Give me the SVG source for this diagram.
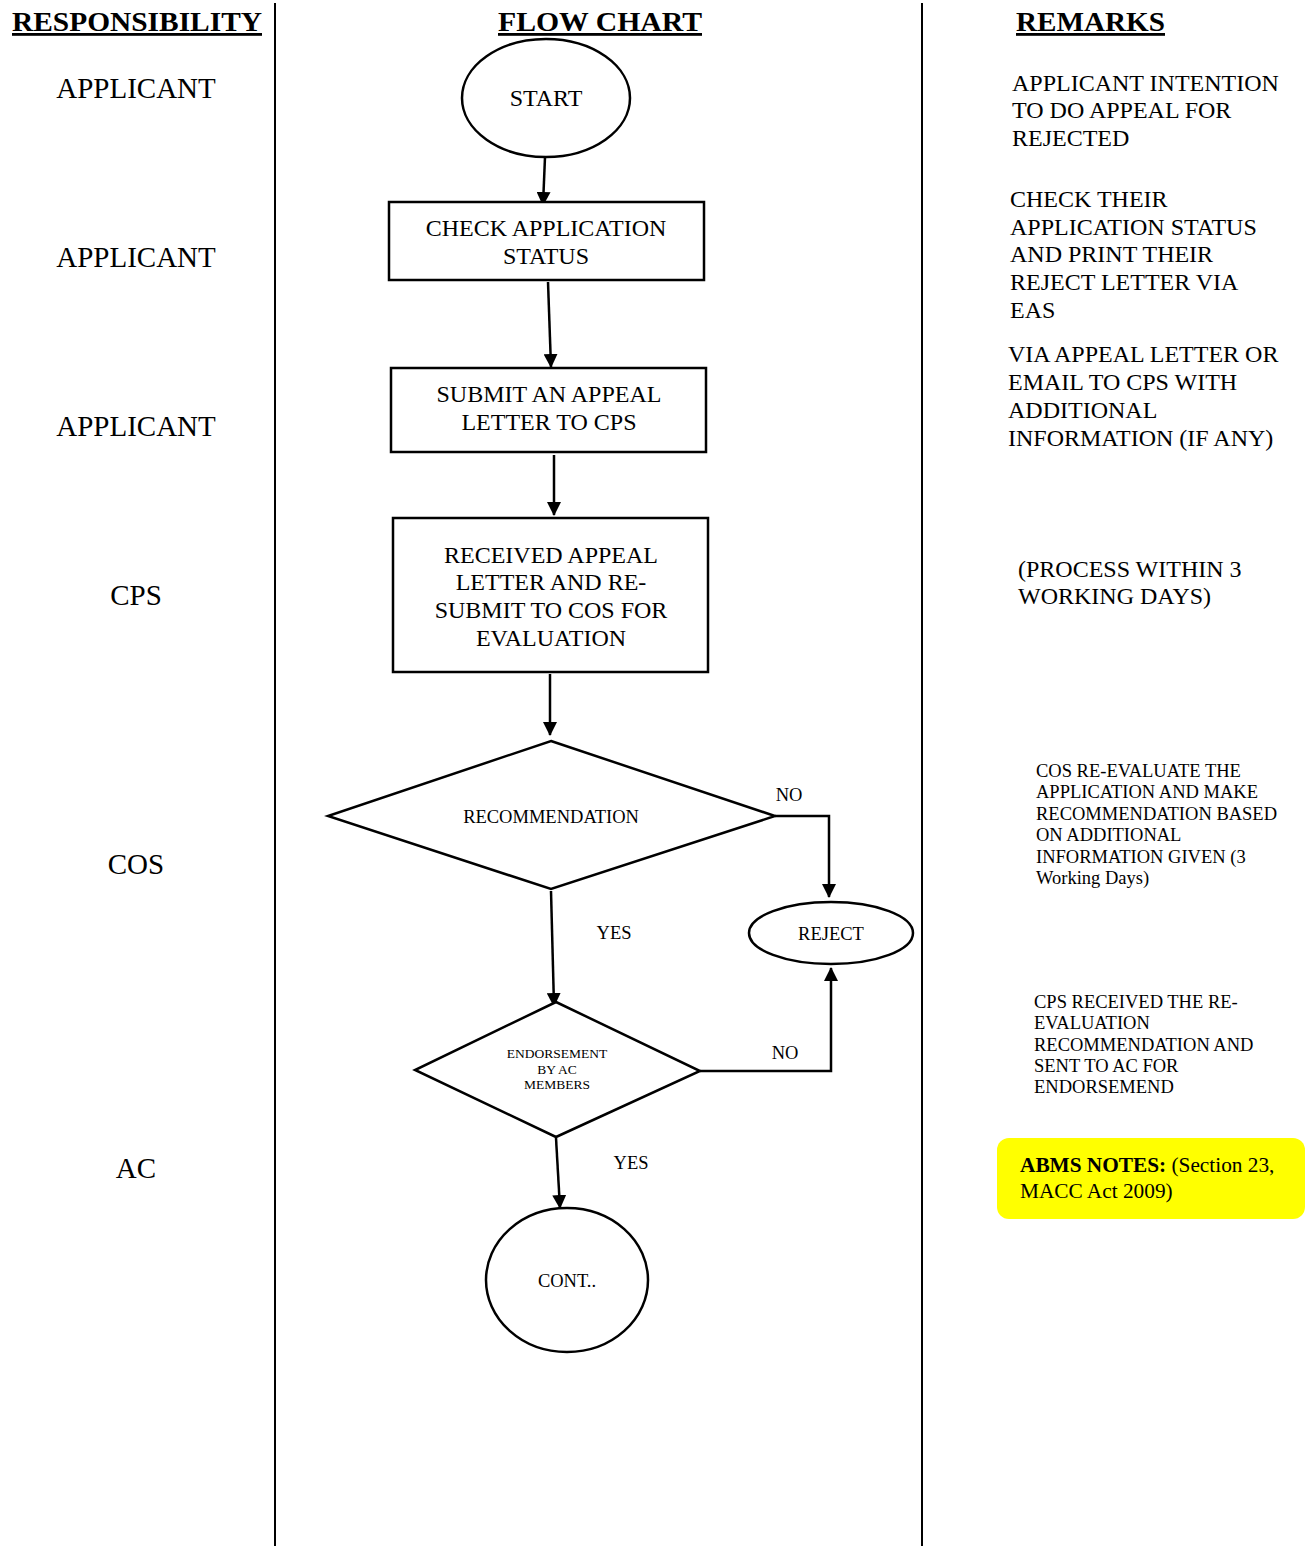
<svg xmlns="http://www.w3.org/2000/svg" width="1306" height="1546" viewBox="0 0 1306 1546">
<defs>
<marker id="arr" markerWidth="14" markerHeight="14" refX="13" refY="7" orient="auto" markerUnits="userSpaceOnUse">
<path d="M0,0 L14,7 L0,14 Z" fill="#000"/>
</marker>
<style>
text{font-family:"Liberation Serif","Times New Roman",serif;fill:#000}
.hdr{font-size:28px;font-weight:bold;text-decoration:underline}
.resp{font-size:29px;text-anchor:middle}
.node{font-size:24px;text-anchor:middle}
.sm{font-size:18.5px;text-anchor:middle}
.rem{font-size:24px}
.rem2{font-size:18.5px}
.shape{fill:#fff;stroke:#000;stroke-width:2.5}
.conn{fill:none;stroke:#000;stroke-width:2.5}
</style>
</defs>
<rect width="1306" height="1546" fill="#fff"/>
<g id="columns">
<line x1="275" y1="3" x2="275" y2="1546" stroke="#000" stroke-width="2"/>
<line x1="922" y1="3" x2="922" y2="1546" stroke="#000" stroke-width="2"/>
<text class="hdr" x="12" y="31" textLength="250" lengthAdjust="spacingAndGlyphs">RESPONSIBILITY</text>
<text class="hdr" x="498" y="31" textLength="204" lengthAdjust="spacingAndGlyphs">FLOW CHART</text>
<text class="hdr" x="1016" y="31" textLength="149" lengthAdjust="spacingAndGlyphs">REMARKS</text>
</g>
<g id="responsibility">
<text class="resp" x="136" y="98">APPLICANT</text>
<text class="resp" x="136" y="267">APPLICANT</text>
<text class="resp" x="136" y="436">APPLICANT</text>
<text class="resp" x="136" y="605">CPS</text>
<text class="resp" x="136" y="874">COS</text>
<text class="resp" x="136" y="1178">AC</text>
</g>
<g id="connectors">
<line class="conn" x1="545" y1="157" x2="543" y2="205" marker-end="url(#arr)"/>
<line class="conn" x1="548" y1="282" x2="551" y2="367" marker-end="url(#arr)"/>
<line class="conn" x1="554" y1="455" x2="554" y2="515" marker-end="url(#arr)"/>
<line class="conn" x1="550" y1="674" x2="550" y2="735" marker-end="url(#arr)"/>
<polyline class="conn" points="775,816 829,816 829,897" marker-end="url(#arr)"/>
<line class="conn" x1="551" y1="891" x2="554" y2="1006" marker-end="url(#arr)"/>
<polyline class="conn" points="700,1071 831,1071 831,968" marker-end="url(#arr)"/>
<line class="conn" x1="556" y1="1138" x2="560" y2="1208" marker-end="url(#arr)"/>
<text class="sm" x="789" y="801">NO</text>
<text class="sm" x="614" y="939">YES</text>
<text class="sm" x="785" y="1059">NO</text>
<text class="sm" x="631" y="1169">YES</text>
</g>
<g id="start">
<ellipse class="shape" cx="546" cy="98" rx="84" ry="59"/>
<text class="node" x="546" y="106">START</text>
</g>
<g id="check">
<rect class="shape" x="389" y="202" width="315" height="78"/>
<text class="node" x="546" y="236">CHECK APPLICATION</text>
<text class="node" x="546" y="264">STATUS</text>
</g>
<g id="submit">
<rect class="shape" x="391" y="368" width="315" height="84"/>
<text class="node" x="549" y="402">SUBMIT AN APPEAL</text>
<text class="node" x="549" y="430">LETTER TO CPS</text>
</g>
<g id="received">
<rect class="shape" x="393" y="518" width="315" height="154"/>
<text class="node" x="551" y="563">RECEIVED APPEAL</text>
<text class="node" x="551" y="590">LETTER AND RE-</text>
<text class="node" x="551" y="618">SUBMIT TO COS FOR</text>
<text class="node" x="551" y="646">EVALUATION</text>
</g>
<g id="recommendation">
<polygon class="shape" points="551,741 775,816 551,889 328,816"/>
<text class="sm" x="551" y="823">RECOMMENDATION</text>
</g>
<g id="reject">
<ellipse class="shape" cx="831" cy="933" rx="82" ry="31"/>
<text class="sm" x="831" y="940">REJECT</text>
</g>
<g id="endorsement">
<polygon class="shape" points="556,1002 700,1071 556,1137 415,1070"/>
<text x="557" y="1058" font-size="13.5" text-anchor="middle">ENDORSEMENT</text>
<text x="557" y="1074" font-size="13.5" text-anchor="middle">BY AC</text>
<text x="557" y="1089" font-size="13.5" text-anchor="middle">MEMBERS</text>
</g>
<g id="cont">
<ellipse class="shape" cx="567" cy="1280" rx="81" ry="72"/>
<text class="sm" x="567" y="1287">CONT..</text>
</g>
<g id="remarks">
<text class="rem" x="1012" y="91">APPLICANT INTENTION</text>
<text class="rem" x="1012" y="118">TO DO APPEAL FOR</text>
<text class="rem" x="1012" y="146">REJECTED</text>
<text class="rem" x="1010" y="207">CHECK THEIR</text>
<text class="rem" x="1010" y="235">APPLICATION STATUS</text>
<text class="rem" x="1010" y="262">AND PRINT THEIR</text>
<text class="rem" x="1010" y="290">REJECT LETTER VIA</text>
<text class="rem" x="1010" y="318">EAS</text>
<text class="rem" x="1008" y="362">VIA APPEAL LETTER OR</text>
<text class="rem" x="1008" y="390">EMAIL TO CPS WITH</text>
<text class="rem" x="1008" y="418">ADDITIONAL</text>
<text class="rem" x="1008" y="446">INFORMATION (IF ANY)</text>
<text class="rem" x="1018" y="577">(PROCESS WITHIN 3</text>
<text class="rem" x="1018" y="604">WORKING DAYS)</text>
<text class="rem2" x="1036" y="777">COS RE-EVALUATE THE</text>
<text class="rem2" x="1036" y="798">APPLICATION AND MAKE</text>
<text class="rem2" x="1036" y="820">RECOMMENDATION BASED</text>
<text class="rem2" x="1036" y="841">ON ADDITIONAL</text>
<text class="rem2" x="1036" y="863">INFORMATION GIVEN (3</text>
<text class="rem2" x="1036" y="884">Working Days)</text>
<text class="rem2" x="1034" y="1008">CPS RECEIVED THE RE-</text>
<text class="rem2" x="1034" y="1029">EVALUATION</text>
<text class="rem2" x="1034" y="1051">RECOMMENDATION AND</text>
<text class="rem2" x="1034" y="1072">SENT TO AC FOR</text>
<text class="rem2" x="1034" y="1093">ENDORSEMEND</text>
</g>
<g id="abms-notes">
<rect x="997" y="1138" width="308" height="81" rx="12" fill="#ffff00"/>
<text x="1020" y="1172" font-size="21.3"><tspan font-weight="bold">ABMS NOTES:</tspan> (Section 23,</text>
<text x="1020" y="1198" font-size="21.3">MACC Act 2009)</text>
</g>
</svg>
